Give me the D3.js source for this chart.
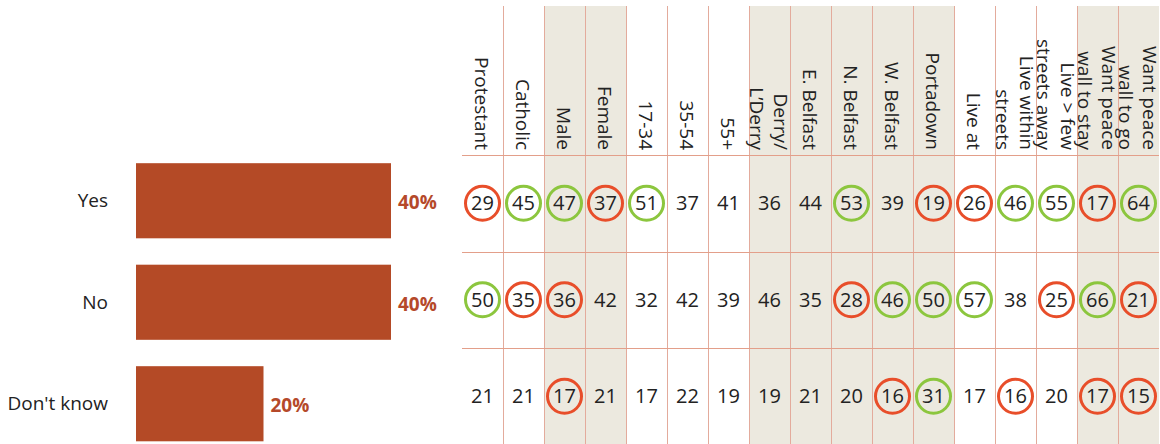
<!DOCTYPE html>
<html>
<head>
<meta charset="utf-8">
<script src="https://cdn.jsdelivr.net/npm/d3@7"></script>
<style>
  body { margin: 0; background: #fff; }
  text { font-family: "Open Sans", "Noto Sans", sans-serif; }
</style>
</head>
<body>
<div id="chart"></div>
<script>
// answers and overall share
var answers = ["Yes", "No", "Don't know"];
var overall = [40, 40, 20];

// breakdown columns ("|" = line break in header)
var columns = ["Protestant", "Catholic", "Male", "Female", "17-34", "35-54", "55+",
  "Derry/|L\u2019Derry", "E. Belfast", "N. Belfast", "W. Belfast", "Portadown",
  "Live at", "Live within|streets", "Live > few|streets away",
  "Want peace|wall to stay", "Want peace|wall to go"];
var shaded = [false, false, true, true, false, false, false,
  true, true, true, true, true, false, false, false, true, true];

var yesVals = [29, 45, 47, 37, 51, 37, 41, 36, 44, 53, 39, 19, 26, 46, 55, 17, 64];
var noVals  = [50, 35, 36, 42, 32, 42, 39, 46, 35, 28, 46, 50, 57, 38, 25, 66, 21];
var dkVals  = [21, 21, 17, 21, 17, 22, 19, 19, 21, 20, 16, 31, 17, 16, 20, 17, 15];

// r = well below average, g = well above, "" = no mark
var yesMarks = ["r","g","g","r","g","","","","","g","","r","r","g","g","r","g"];
var noMarks  = ["g","r","r","","","","","","","r","g","g","g","","r","g","r"];
var dkMarks  = ["","","r","","","","","","","","r","g","","r","","r","r"];

var W = 1160, H = 444;
var barColor = "#b44a26";
var gridColor = "#e3ab9c";
var markColor = { r: "#e84e2a", g: "#8cc63e" };

const svg = d3.select("#chart")
  .append("svg")
  .attr("width", W)
  .attr("height", H);

//LEFT BAR CHART
var xBar = d3.scaleLinear().domain([0, 40]).range([136, 391]);
var yBar = d3.scaleBand().domain(answers).range([150, 454.5])
  .paddingInner(0.26).paddingOuter(0.13);

svg.selectAll(".bar")
  .data(answers)
  .enter().append("rect")
  .attr("class", "bar")
  .attr("x", xBar(0))
  .attr("y", d => yBar(d))
  .attr("width", (d, i) => xBar(overall[i]) - xBar(0))
  .attr("height", yBar.bandwidth())
  .attr("fill", barColor);

svg.selectAll(".cat")
  .data(answers)
  .enter().append("text")
  .attr("class", "cat")
  .attr("x", 108)
  .attr("y", d => yBar(d) + yBar.bandwidth() / 2)
  .attr("dy", "0.35em")
  .attr("text-anchor", "end")
  .attr("font-size", 19)
  .attr("fill", "#222")
  .text(d => d);

svg.selectAll(".pct")
  .data(answers)
  .enter().append("text")
  .attr("class", "pct")
  .attr("x", (d, i) => xBar(overall[i]) + 7)
  .attr("y", d => yBar(d) + yBar.bandwidth() / 2 + 2)
  .attr("dy", "0.35em")
  .attr("font-size", 19)
  .attr("font-weight", "bold")
  .attr("fill", "#b5492a")
  .text((d, i) => overall[i] + "%");

//RIGHT TABLE
var xCol = d3.scaleBand().domain(d3.range(columns.length)).range([462, 1159]);
var yRow = d3.scaleBand().domain(answers).range([155, 444.5]);
var cw = xCol.bandwidth();

// shaded groups
svg.selectAll(".shade")
  .data(d3.range(columns.length).filter(i => shaded[i]))
  .enter().append("rect")
  .attr("class", "shade")
  .attr("x", i => xCol(i))
  .attr("y", 6)
  .attr("width", cw)
  .attr("height", H - 6)
  .attr("fill", "#ece9df");

// vertical grid
svg.selectAll(".vline")
  .data(d3.range(1, columns.length))
  .enter().append("line")
  .attr("class", "vline")
  .attr("x1", i => Math.round(xCol(i)) + 0.5)
  .attr("x2", i => Math.round(xCol(i)) + 0.5)
  .attr("y1", 6)
  .attr("y2", H)
  .attr("stroke", gridColor)
  .attr("stroke-width", 1);

// horizontal grid
svg.selectAll(".hline")
  .data(answers)
  .enter().append("line")
  .attr("class", "hline")
  .attr("x1", 462)
  .attr("x2", 1159)
  .attr("y1", d => Math.round(yRow(d)) + 0.5)
  .attr("y2", d => Math.round(yRow(d)) + 0.5)
  .attr("stroke", "#e39f8a")
  .attr("stroke-width", 1);

// column headers, rotated to read downwards
var heads = svg.selectAll(".head")
  .data(columns)
  .enter().append("g")
  .attr("class", "head")
  .attr("transform", (d, i) => "translate(" + (xCol(i) + cw / 2 - 0.5) + ",150) rotate(90)");

heads.each(function(d) {
  var lines = d.split("|");
  var t = d3.select(this).append("text")
    .attr("text-anchor", "end")
    .attr("font-size", 19)
    .attr("fill", "#222");
  lines.forEach(function(l, k) {
    var off = lines.length === 1 ? 0 : (k === 0 ? -12 : 12);
    t.append("tspan")
      .attr("x", 0)
      .attr("y", off)
      .attr("dy", "0.35em")
      .text(l);
  });
});

// cells
var rows = [
  { name: "Yes", vals: yesVals, marks: yesMarks },
  { name: "No", vals: noVals, marks: noMarks },
  { name: "Don't know", vals: dkVals, marks: dkMarks }
];

rows.forEach(function(r) {
  var cy = yRow(r.name) + yRow.bandwidth() / 2;
  var g = svg.append("g");
  g.selectAll("circle")
    .data(d3.range(columns.length).filter(i => r.marks[i] !== ""))
    .enter().append("circle")
    .attr("cx", i => xCol(i) + cw / 2)
    .attr("cy", cy)
    .attr("r", 17)
    .attr("fill", "none")
    .attr("stroke", i => markColor[r.marks[i]])
    .attr("stroke-width", 3);
  g.selectAll("text")
    .data(r.vals)
    .enter().append("text")
    .attr("x", (d, i) => xCol(i) + cw / 2)
    .attr("y", cy)
    .attr("dy", "0.36em")
    .attr("text-anchor", "middle")
    .attr("font-size", 20)
    .attr("fill", "#222")
    .text(d => d);
});
</script>
</body>
</html>
